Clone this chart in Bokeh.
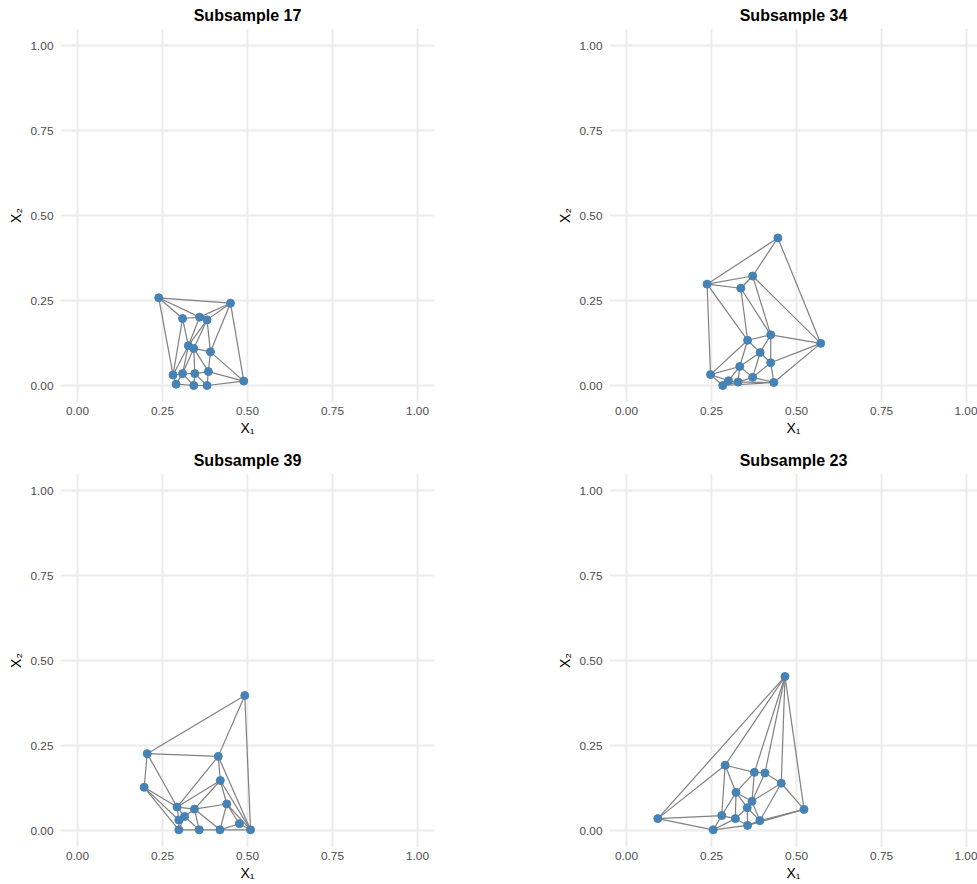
from bokeh.plotting import figure
from bokeh.layouts import column, row
from bokeh.models import Range1d, FixedTicker
from bokeh.embed import file_html
from bokeh.resources import INLINE

# ---------------- data ----------------
titles = ["Subsample 17", "Subsample 34", "Subsample 39", "Subsample 23"]

s17_x = [0.239, 0.450, 0.309, 0.359, 0.381, 0.326, 0.342, 0.391,
         0.281, 0.309, 0.345, 0.385, 0.489, 0.290, 0.342, 0.381]
s17_y = [0.258, 0.242, 0.197, 0.201, 0.193, 0.117, 0.109, 0.099,
         0.031, 0.035, 0.035, 0.041, 0.013, 0.004, 0.000, 0.000]

s34_x = [0.445, 0.237, 0.371, 0.336, 0.356, 0.424, 0.571, 0.393,
         0.424, 0.333, 0.247, 0.371, 0.300, 0.328, 0.433, 0.283]
s34_y = [0.434, 0.298, 0.322, 0.286, 0.133, 0.149, 0.124, 0.097,
         0.067, 0.056, 0.032, 0.024, 0.014, 0.010, 0.009, 0.000]

s39_x = [0.492, 0.205, 0.414, 0.420, 0.196, 0.439, 0.293, 0.344,
         0.315, 0.298, 0.476, 0.298, 0.358, 0.419, 0.509]
s39_y = [0.397, 0.226, 0.218, 0.147, 0.127, 0.078, 0.069, 0.063,
         0.041, 0.031, 0.020, 0.002, 0.002, 0.002, 0.002]

s23_x = [0.466, 0.290, 0.376, 0.407, 0.455, 0.322, 0.369, 0.355,
         0.522, 0.280, 0.092, 0.320, 0.392, 0.356, 0.255]
s23_y = [0.453, 0.192, 0.171, 0.169, 0.139, 0.112, 0.086, 0.067,
         0.062, 0.044, 0.035, 0.035, 0.029, 0.015, 0.002]

tick_values = [0.0, 0.25, 0.5, 0.75, 1.0]
tick_labels = ["0.00", "0.25", "0.50", "0.75", "1.00"]
x_label = "X\u2081"
y_label = "X\u2082"


# ---------------- Delaunay triangulation (Bowyer-Watson) ----------------
def delaunay_edges(xs, ys):
    pts = list(zip(xs, ys))
    n = len(pts)
    big = 1000.0
    pts.extend([(-big, -big), (3 * big, -big), (-big, 3 * big)])
    tris = [(n, n + 1, n + 2)]

    def circ(t):
        (ax, ay), (bx, by), (cx, cy) = pts[t[0]], pts[t[1]], pts[t[2]]
        d = 2 * (ax * (by - cy) + bx * (cy - ay) + cx * (ay - by))
        ux = ((ax * ax + ay * ay) * (by - cy) + (bx * bx + by * by) * (cy - ay)
              + (cx * cx + cy * cy) * (ay - by)) / d
        uy = ((ax * ax + ay * ay) * (cx - bx) + (bx * bx + by * by) * (ax - cx)
              + (cx * cx + cy * cy) * (bx - ax)) / d
        return ux, uy, (ax - ux) ** 2 + (ay - uy) ** 2

    for i in range(n):
        px, py = pts[i]
        bad = []
        for t in tris:
            ux, uy, r2 = circ(t)
            if (px - ux) ** 2 + (py - uy) ** 2 < r2:
                bad.append(t)
        count = {}
        for t in bad:
            for e in ((t[0], t[1]), (t[1], t[2]), (t[2], t[0])):
                k = tuple(sorted(e))
                count[k] = count.get(k, 0) + 1
        tris = [t for t in tris if t not in bad]
        for k, c in count.items():
            if c == 1:
                tris.append((k[0], k[1], i))
    edges = set()
    for t in tris:
        if max(t) < n:
            for e in ((t[0], t[1]), (t[1], t[2]), (t[2], t[0])):
                edges.add(tuple(sorted(e)))
    return sorted(edges)


FONT = "Liberation Sans"


def make_panel(title, xs, ys, right_col, bottom_row):
    x_end = 1.032 if right_col else 1.05
    frame_w = 368 if right_col else 374
    p = figure(
        output_backend="svg", toolbar_location=None,
        frame_width=frame_w, frame_height=374,
        x_range=Range1d(-0.05, x_end), y_range=Range1d(-0.05, 1.05),
        min_border_left=60, min_border_right=0 if right_col else 115,
        min_border_top=28,
        min_border_bottom=37 if bottom_row else 43,
        background_fill_color="white", border_fill_color="white",
        outline_line_color=None,
    )
    p.title.text = title
    p.title.text_font = FONT
    p.title.text_font_size = "16px"
    p.title.text_font_style = "bold"
    p.title.text_color = "black"
    p.title.align = "center"
    p.title.standoff = 9
    if right_col:
        p.title.offset = 3

    for ax in (p.xaxis[0], p.yaxis[0]):
        ax.ticker = FixedTicker(ticks=tick_values)
        ax.major_label_overrides = dict(zip(tick_values, tick_labels))
        ax.axis_line_color = None
        ax.major_tick_line_color = None
        ax.minor_tick_line_color = None
        ax.major_tick_out = 0
        ax.major_tick_in = 0
        ax.minor_tick_out = 0
        ax.minor_tick_in = 0
        ax.major_label_text_font = FONT
        ax.major_label_text_font_size = "11.8px"
        ax.major_label_text_color = "#4d4d4d"
        ax.axis_label_text_font = FONT
        ax.axis_label_text_font_size = "14px"
        ax.axis_label_text_font_style = "normal"
        ax.axis_label_text_color = "black"
    p.xaxis.major_label_standoff = 4
    p.xaxis.axis_label_standoff = 2
    p.yaxis.major_label_standoff = 7
    p.yaxis.axis_label_standoff = 4
    p.xaxis.axis_label = x_label
    p.yaxis.axis_label = y_label

    p.xgrid.ticker = FixedTicker(ticks=tick_values)
    p.ygrid.ticker = FixedTicker(ticks=tick_values)
    p.grid.grid_line_color = "#ebebeb"
    p.grid.grid_line_width = 1.9

    edges = delaunay_edges(xs, ys)
    p.multi_line(
        xs=[[xs[a], xs[b]] for a, b in edges],
        ys=[[ys[a], ys[b]] for a, b in edges],
        line_color="#808080", line_width=1.2,
    )
    p.scatter(xs, ys, size=8, fill_color="#4682b4", line_color="#4682b4")
    return p


p1 = make_panel(titles[0], s17_x, s17_y, False, False)
p2 = make_panel(titles[1], s34_x, s34_y, True, False)
p3 = make_panel(titles[2], s39_x, s39_y, False, True)
p4 = make_panel(titles[3], s23_x, s23_y, True, True)

p = column(row(p1, p2), row(p3, p4))

open("out.html", "w").write(file_html(p, INLINE))
